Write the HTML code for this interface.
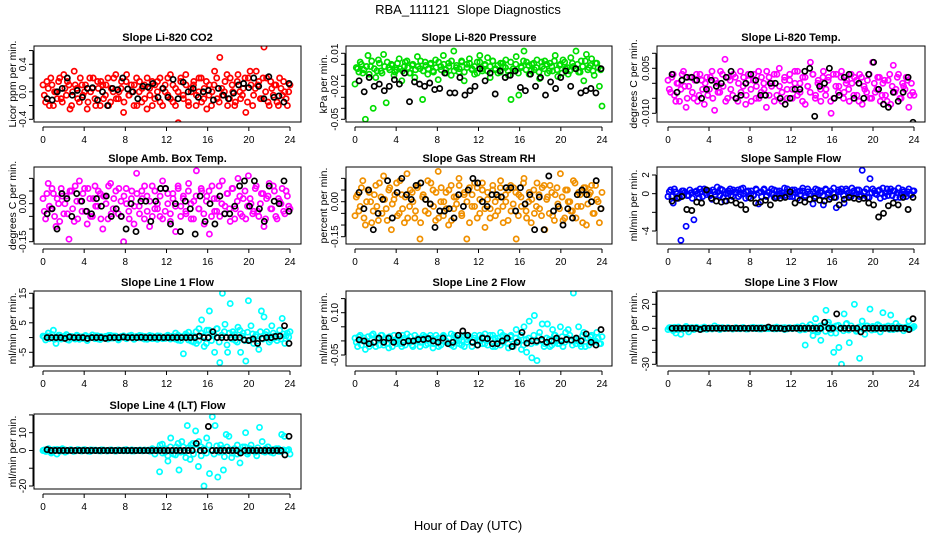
<!DOCTYPE html>
<html><head><meta charset="utf-8"><title>RBA_111121 Slope Diagnostics</title>
<style>
html,body{margin:0;padding:0;background:#fff;}
svg{display:block;font-family:"Liberation Sans",sans-serif;}
</style></head>
<body>
<svg id="chart" width="936" height="540" viewBox="0 0 936 540" xmlns="http://www.w3.org/2000/svg">
<rect x="0" y="0" width="936" height="540" fill="#fff"/>
<text x="468" y="14" text-anchor="middle" font-size="13">RBA_111121&#160; Slope Diagnostics</text>
<text x="468" y="530" text-anchor="middle" font-size="13">Hour of Day (UTC)</text>
</svg>
<script>
// ---- data (x = evenly spaced hours 0..24) ----
const xTicks = [0,4,8,12,16,20,24];

const co2Color = [0.1,-0.15,0.05,0.2,-0.2,0.0,0.15,-0.1,0.25,-0.05,0.1,-0.2,0.3,0.05,-0.15,0.1,0.0,-0.25,0.2,0.05,-0.1,0.15,-0.2,0.1,-0.05,0.2,-0.15,0.0,0.25,-0.1,0.05,-0.3,0.15,-0.05,0.1,-0.2,0.2,0.0,-0.15,0.1,-0.25,0.05,0.15,-0.1,0.0,0.2,-0.2,0.1,-0.05,0.25,-0.15,0.05,-0.45,0.2,-0.1,0.1,-0.2,0.0,0.15,-0.05,0.2,-0.15,0.05,-0.25,0.1,0.0,0.3,-0.1,0.5,-0.05,0.15,-0.2,0.2,0.0,-0.15,0.25,-0.1,0.05,-0.3,0.2,0.1,-0.05,0.3,0.15,-0.1,0.65,0.2,-0.2,0.05,0.1,-0.15,0.2,-0.05,0.0,-0.2,0.1];
const co2Color2 = [-0.05,0.15,-0.2,0.1,0.0,-0.1,0.2,-0.15,0.05,0.15,-0.25,0.0,0.1,-0.1,0.2,-0.05,0.1,-0.15,0.0,0.2,-0.2,0.05,0.15,-0.1,0.1,-0.2,0.05,0.2,-0.1,0.0,0.15,-0.15,0.25,-0.05,0.0,0.1,-0.2,0.15,0.05,-0.1,0.2,-0.05,-0.2,0.1,0.15,-0.15,0.05,0.0,0.2,-0.1,0.1,-0.2,0.0,0.15,-0.05,0.25,-0.15,0.05,0.1,-0.2,0.0,0.2,-0.1,0.15,-0.05,-0.2,0.1,0.2,-0.15,0.05,0.0,0.25,-0.1,0.1,-0.2,0.15,0.0,-0.05,0.2,-0.15,0.3,-0.2,0.05,0.1,-0.1,0.2,0.0,-0.15,0.15,-0.05,0.1,-0.2,0.05,0.15,-0.1,0.0];
const co2Black = [-0.1,-0.12,0.0,0.05,0.2,-0.05,0.02,-0.08,0.05,0.06,-0.12,0.0,-0.2,0.05,0.03,0.2,0.04,0.0,-0.1,0.08,0.07,0.12,-0.08,0.05,-0.08,0.18,-0.1,0.14,0.0,0.05,-0.08,0.0,0.02,-0.12,0.05,-0.05,-0.1,-0.02,0.1,0.12,0.06,0.2,0.08,-0.1,0.22,-0.08,-0.06,-0.15,0.12];
const co2Ticks = [-0.4,-0.2,0.0,0.2,0.4,0.6];
const co2Labels = ["-0.4","","0.0","","0.4",""];

const presColor = [-0.018,-0.004,0.002,-0.008,-0.05,0.008,-0.002,-0.04,-0.012,0.004,-0.006,0.009,-0.035,-0.003,0.0,-0.01,-0.005,0.005,-0.015,-0.002,0.003,-0.008,-0.001,-0.012,0.007,-0.004,-0.032,0.002,-0.009,0.0,-0.006,0.004,-0.014,-0.002,0.008,-0.005,0.001,-0.01,0.012,-0.003,-0.007,0.003,-0.015,0.0,0.005,-0.004,-0.009,0.002,0.008,-0.006,-0.001,0.006,-0.012,0.003,-0.004,-0.008,0.001,-0.002,0.004,-0.01,-0.032,-0.006,0.007,-0.028,-0.003,0.012,0.002,-0.009,0.0,-0.005,0.004,-0.013,-0.002,0.003,-0.008,0.001,-0.006,0.008,-0.011,0.0,0.004,-0.004,-0.009,0.006,-0.002,0.012,-0.007,0.003,-0.015,0.009,-0.003,0.005,-0.01,0.001,-0.02,-0.038];
const presColor2 = [-0.003,-0.007,0.0,-0.005,-0.002,-0.009,0.003,-0.004,-0.006,0.001,-0.008,-0.002,0.002,-0.005,-0.001,-0.007,0.001,-0.004,-0.006,0.002,-0.003,-0.008,0.0,-0.005,-0.002,0.003,-0.006,-0.001,-0.004,0.001,-0.007,-0.003,0.002,-0.005,0.0,-0.008,-0.002,0.003,-0.006,-0.001,-0.004,0.002,-0.007,-0.003,0.001,-0.005,-0.002,-0.008,0.002,-0.004,0.0,-0.006,-0.002,0.003,-0.005,-0.001,-0.007,0.001,-0.003,-0.006,0.002,-0.004,0.0,-0.008,-0.002,0.003,-0.005,-0.001,-0.006,0.001,-0.003,-0.007,0.002,-0.004,0.0,-0.006,-0.002,0.003,-0.005,-0.001,-0.008,0.002,-0.003,-0.006,0.001,-0.004,0.0,-0.007,-0.002,0.003,-0.005,-0.001,-0.006,0.001,-0.003,-0.005];
const presBlack = [-0.015,-0.025,-0.012,-0.02,-0.018,-0.024,-0.02,-0.014,-0.018,-0.008,-0.034,-0.016,-0.018,-0.02,-0.017,-0.023,-0.022,-0.008,-0.026,-0.026,-0.012,-0.028,-0.024,-0.02,-0.004,-0.015,-0.008,-0.027,-0.006,-0.012,-0.01,-0.006,-0.021,-0.024,-0.009,-0.02,-0.012,-0.028,-0.016,-0.022,-0.012,-0.006,-0.02,-0.004,-0.026,-0.024,-0.022,-0.026,-0.004];
const presTicks = [-0.05,-0.04,-0.03,-0.02,-0.01,0.0,0.01];
const presLabels = ["-0.05","","","-0.02","","","0.01"];

const tempColor = [0.001,-0.003,0.003,-0.006,0.0,-0.002,0.004,-0.008,-0.001,0.002,-0.005,0.003,-0.004,0.001,-0.007,0.002,-0.002,0.004,-0.009,0.0,-0.003,0.003,0.008,-0.005,0.001,-0.004,0.002,-0.006,0.004,-0.001,-0.007,0.003,-0.002,0.001,-0.005,0.004,-0.003,0.0,-0.008,0.002,-0.001,0.003,-0.004,0.005,-0.006,0.001,-0.002,0.003,-0.005,0.0,0.004,-0.003,0.002,-0.007,-0.001,0.007,0.003,-0.004,0.001,-0.006,0.004,-0.002,0.002,-0.01,-0.005,0.003,-0.001,0.004,-0.003,0.001,-0.006,0.0,0.002,-0.004,0.003,-0.007,-0.002,0.001,-0.005,0.007,-0.003,0.002,-0.006,0.0,-0.004,0.001,-0.007,0.006,-0.002,0.003,-0.005,-0.001,0.002,-0.008,0.0,-0.004];
const tempColor2 = [-0.002,0.002,-0.004,0.0,-0.006,0.003,-0.001,-0.005,0.002,-0.003,0.001,-0.006,0.003,-0.002,0.0,-0.004,0.002,-0.005,0.001,-0.003,0.004,-0.001,-0.006,0.002,-0.002,0.003,-0.005,0.0,-0.003,0.002,-0.004,0.001,-0.006,0.003,-0.001,-0.005,0.002,-0.002,0.004,-0.004,0.0,-0.006,0.003,-0.001,-0.003,0.002,-0.005,0.001,-0.002,0.004,-0.004,0.0,-0.006,0.002,-0.001,-0.003,0.003,-0.005,0.0,-0.002,0.002,-0.004,0.001,-0.006,0.003,-0.001,-0.003,0.002,-0.005,0.0,-0.002,0.003,-0.004,0.001,-0.006,0.002,-0.001,-0.003,0.003,-0.005,0.0,-0.002,0.002,-0.004,0.001,-0.006,0.003,-0.001,-0.003,0.002,-0.005,0.0,-0.002,0.001,-0.004,-0.003];
const tempBlack = [0.003,-0.003,0.001,0.002,0.002,0.001,-0.005,-0.002,0.001,-0.001,0.0,0.002,0.004,-0.005,-0.004,0.0,0.003,0.001,-0.004,-0.004,0.0,0.0,-0.005,-0.007,-0.005,-0.002,-0.002,0.004,0.005,-0.011,-0.001,0.0,0.005,-0.005,-0.004,0.002,0.003,-0.005,0.0,-0.005,0.003,0.007,-0.002,-0.007,-0.008,-0.003,-0.006,-0.003,0.002,-0.013];
const tempTicks = [-0.010,-0.005,0.0,0.005,0.010];
const tempLabels = ["-0.010","","","0.005",""];

const ambColor = [0.02,-0.06,0.08,-0.02,0.04,-0.09,0.0,0.06,-0.04,0.03,-0.14,0.05,-0.07,0.01,0.09,-0.03,0.06,-0.08,0.02,-0.05,0.07,-0.01,0.04,-0.1,0.03,-0.06,0.08,-0.02,0.05,-0.04,0.01,-0.15,0.06,-0.03,0.02,-0.08,0.12,-0.01,0.05,-0.06,0.03,-0.09,0.07,-0.02,0.0,-0.05,0.09,-0.03,0.04,-0.07,0.02,-0.11,0.06,-0.01,0.03,-0.04,0.08,-0.06,0.01,0.13,-0.02,0.05,-0.08,0.03,-0.12,0.07,-0.03,0.02,-0.05,0.09,-0.01,0.04,-0.07,0.06,-0.02,0.1,-0.04,0.02,-0.06,0.11,0.0,-0.03,0.07,-0.05,0.04,-0.09,0.02,0.08,-0.02,0.05,-0.06,0.01,0.06,-0.04,0.03,-0.02];
const ambColor2 = [-0.03,0.04,-0.01,0.06,-0.05,0.02,-0.07,0.03,0.0,-0.04,0.05,-0.02,0.07,-0.06,0.01,0.04,-0.03,0.06,-0.05,0.02,-0.01,0.05,-0.06,0.03,0.0,0.07,-0.04,0.02,-0.02,0.06,-0.05,0.03,0.0,-0.06,0.05,-0.01,0.04,-0.04,0.02,0.07,-0.03,0.01,-0.05,0.05,-0.02,0.03,-0.06,0.06,0.0,-0.04,0.04,-0.01,0.07,-0.05,0.02,-0.03,0.05,0.0,-0.06,0.03,-0.02,0.06,-0.04,0.01,0.05,-0.05,0.02,-0.03,0.07,0.0,-0.04,0.04,-0.02,0.06,-0.06,0.01,0.03,-0.05,0.05,-0.01,0.02,-0.04,0.06,-0.03,0.0,0.04,-0.06,0.03,-0.02,0.07,-0.05,0.02,0.0,-0.03,0.05,-0.01];
const ambBlack = [-0.04,-0.02,-0.1,0.04,0.02,-0.05,0.04,0.01,-0.03,-0.04,0.02,-0.01,0.03,-0.05,-0.02,-0.05,-0.1,0.0,-0.11,0.01,0.01,-0.07,0.01,0.06,0.06,-0.08,0.0,-0.11,0.01,-0.02,-0.12,0.03,-0.07,0.0,-0.08,0.03,-0.04,-0.04,-0.01,0.07,0.09,-0.01,0.09,-0.02,-0.07,0.07,0.01,0.0,0.09,-0.03];
const ambTicks = [-0.15,-0.10,-0.05,0.0,0.05,0.10];
const ambLabels = ["-0.15","","","0.00","",""];

const rhColor = [-0.06,0.03,-0.02,0.09,-0.1,0.05,0.0,-0.04,0.07,-0.08,0.02,0.11,-0.03,0.05,-0.12,0.01,0.08,-0.05,0.03,-0.09,0.12,-0.02,0.04,-0.07,0.06,-0.16,0.02,-0.04,0.09,-0.01,0.05,-0.08,0.13,0.0,-0.06,0.04,-0.1,0.07,-0.03,0.02,0.1,-0.05,0.03,-0.16,0.06,-0.02,0.08,-0.07,0.01,0.05,-0.11,0.04,-0.03,0.07,-0.06,0.02,0.09,-0.09,0.0,0.05,-0.04,0.06,-0.16,0.03,-0.02,0.1,-0.07,0.04,0.01,-0.05,0.08,-0.03,0.06,-0.12,0.02,0.07,-0.06,0.03,-0.01,0.12,-0.08,0.05,0.0,-0.04,0.09,-0.07,0.04,-0.02,0.06,-0.1,0.03,0.07,-0.05,0.01,-0.09,0.04];
const rhColor2 = [0.02,-0.04,0.06,-0.07,0.0,0.04,-0.09,0.03,-0.02,0.08,-0.05,0.01,-0.08,0.06,-0.01,0.03,-0.06,0.09,-0.03,0.02,-0.07,0.05,0.0,-0.04,0.07,-0.09,0.03,0.01,-0.05,0.08,-0.02,0.04,-0.07,0.06,0.0,-0.03,0.05,-0.08,0.02,-0.01,0.07,-0.06,0.04,0.0,-0.09,0.03,-0.02,0.06,-0.05,0.08,-0.03,0.01,-0.07,0.05,0.0,-0.04,0.06,-0.02,0.03,-0.08,0.07,-0.01,0.04,-0.06,0.02,0.08,-0.04,0.0,-0.09,0.05,-0.02,0.03,-0.06,0.07,0.01,-0.05,0.04,-0.08,0.06,-0.03,0.02,-0.07,0.05,0.0,-0.04,0.08,-0.02,0.03,-0.09,0.06,-0.01,0.04,-0.05,0.07,0.0,-0.03];
const rhBlack = [0.04,-0.03,0.05,-0.12,-0.05,0.01,0.09,-0.07,0.04,0.1,0.03,0.01,0.07,0.08,0.01,-0.01,-0.11,-0.04,-0.04,-0.03,-0.07,0.03,-0.02,0.05,0.1,0.08,0.0,-0.02,0.03,0.03,0.02,0.06,0.06,-0.04,0.06,-0.01,0.03,-0.12,0.02,-0.12,0.11,-0.04,-0.02,-0.1,-0.03,-0.07,0.03,0.05,0.03,0.0,0.09,-0.03];
const rhTicks = [-0.15,-0.10,-0.05,0.0,0.05,0.10];
const rhLabels = ["-0.15","","","0.00","",""];

const flowColor = [-0.3,0.4,-1.0,0.2,-0.5,-5.0,0.3,-3.5,-0.2,0.1,-2.8,0.3,-0.4,0.2,0.5,-0.1,0.3,-0.6,0.2,0.7,-0.2,0.4,-0.8,0.1,0.5,-0.3,0.2,0.4,-0.1,0.6,-0.5,0.3,0.0,-0.2,0.5,-1.1,0.2,0.4,-0.3,0.1,0.5,-0.4,0.3,0.0,-0.2,0.6,0.2,-0.3,0.4,0.1,-0.5,0.3,0.6,-0.2,0.2,0.0,-1.1,0.5,-0.1,0.3,-1.2,0.4,0.1,-0.4,0.6,-1.5,0.2,0.5,-1.0,0.3,-0.2,0.6,0.1,0.4,-0.3,2.5,0.2,-0.4,1.6,0.5,0.0,0.3,-0.5,0.6,0.1,-0.2,0.5,0.3,-0.4,0.6,0.0,0.2,-0.3,0.5,-0.1,0.3];
const flowColor2 = [0.2,-0.3,0.5,0.0,-0.4,0.3,0.1,-0.2,0.4,-0.5,0.2,0.0,0.5,-0.3,0.1,0.3,-0.2,0.4,-0.1,0.2,0.5,-0.4,0.0,0.3,-0.2,0.4,0.1,-0.3,0.5,0.0,0.2,-0.4,0.3,-0.1,0.4,0.1,-0.3,0.5,-0.2,0.2,0.0,0.4,-0.4,0.3,0.1,-0.2,0.5,0.0,-0.3,0.4,0.2,-0.1,0.3,-0.4,0.5,0.0,0.2,-0.3,0.4,0.1,-0.2,0.5,-0.1,0.3,0.0,-0.4,0.4,0.2,-0.2,0.5,0.1,-0.3,0.3,0.0,0.4,-0.2,0.2,0.5,-0.4,0.1,0.3,-0.1,0.4,0.0,-0.3,0.5,0.2,-0.2,0.3,0.1,-0.4,0.4,0.0,0.2,-0.1,0.3];
const flowBlack = [-0.8,-0.5,-0.3,-1.7,-1.8,-0.9,-1.0,0.4,-0.5,-0.8,-0.9,-0.8,-0.7,-1.0,-1.2,-1.7,-0.5,-1.0,-0.9,-0.7,-1.2,-0.5,-0.5,-0.4,0.2,-1.0,-0.7,-0.9,-0.6,-0.5,-0.7,-0.8,-0.6,-0.4,-1.2,-0.6,-0.4,-0.5,-0.6,-0.5,-1.0,-1.2,-2.5,-2.1,-1.3,-1.0,-1.2,-0.4,-1.7,-0.4];
const flowTicks = [-4,-2,0,2];
const flowLabels = ["-4","","0","2"];

const l1Color = [0.5,-0.8,1.5,0.2,2.5,-2.0,0.8,-0.5,0.3,1.0,-0.9,0.4,-0.3,0.8,-0.6,0.2,0.5,-1.0,0.3,0.9,-0.4,0.6,-0.7,0.1,0.4,-0.5,0.7,-0.2,0.5,-0.8,0.3,0.6,-0.3,0.2,0.8,-0.6,0.4,-0.1,0.6,-0.5,0.3,0.7,-0.4,0.2,-0.6,0.5,0.1,-0.3,0.8,-0.5,0.2,1.5,-0.9,0.3,-5.5,0.6,1.8,-1.2,0.5,-2.0,3.0,6.0,-3.0,2.5,9.0,1.0,-5.0,3.0,-8.5,15.0,4.5,-5.0,11.5,2.0,-1.0,3.5,-5.0,1.5,-8.0,12.5,4.0,-2.0,1.0,-4.0,9.0,7.0,2.0,-1.5,4.0,0.5,-1.0,2.5,6.5,-2.0,1.5,2.0];
const l1Color2 = [0.2,0.6,-0.4,1.0,-0.6,0.3,0.8,-0.2,0.5,-0.7,0.4,0.1,-0.5,0.6,0.2,-0.3,0.7,-0.4,0.3,0.0,0.6,-0.5,0.4,0.1,-0.3,0.7,-0.2,0.5,0.0,-0.6,0.4,0.2,-0.4,0.6,0.1,-0.5,0.3,0.7,-0.2,0.4,-0.6,0.2,0.5,-0.3,0.6,0.0,-0.4,0.3,0.6,-0.2,0.5,-0.5,0.8,-1.0,0.4,1.2,-0.8,0.6,-1.5,2.0,-1.0,1.5,0.5,-2.0,2.5,-1.0,1.0,3.0,-1.5,0.8,2.0,-2.5,1.5,-0.5,1.0,-1.5,2.5,0.5,-1.0,1.8,-0.8,1.2,0.4,-1.2,2.0,-0.5,1.0,0.3,-0.8,1.5,0.0,0.8,-0.5,1.2,0.6,0.2];
const l1Black = [0.0,0.0,0.0,0.0,-0.3,0.2,0.0,0.0,0.0,-0.3,0.0,0.0,0.0,-0.3,0.0,0.0,0.0,0.2,0.0,0.0,0.0,0.1,0.0,0.0,0.0,0.0,0.0,0.0,0.0,0.0,0.0,0.0,0.0,0.0,0.5,0.0,0.0,2.0,0.0,0.0,0.0,0.0,0.0,0.0,-0.8,-1.0,-0.5,-2.0,-0.3,0.0,0.0,0.4,0.5,4.0,-2.0];
const l1Ticks = [-10,-5,0,5,10,15];
const l1Labels = ["","-5","","5","","15"];

const l2Color = [0.01,-0.02,0.02,0.0,-0.03,0.015,-0.01,0.025,-0.02,0.005,0.02,-0.015,0.01,-0.025,0.0,0.02,-0.01,0.015,-0.02,0.01,0.025,-0.005,-0.015,0.02,0.0,-0.02,0.01,0.015,-0.01,0.02,-0.025,0.005,0.01,-0.015,0.02,0.0,-0.01,0.025,-0.02,0.01,0.005,-0.015,0.02,-0.005,0.015,-0.02,0.01,0.0,0.02,-0.01,0.025,-0.015,0.005,0.02,-0.02,0.01,0.03,-0.005,0.015,-0.025,0.02,-0.01,0.04,0.0,-0.03,0.05,-0.04,0.07,-0.06,0.09,-0.07,0.03,0.06,-0.01,0.06,-0.02,0.04,0.02,-0.01,0.05,-0.02,0.03,0.04,0.0,0.17,-0.01,0.05,-0.02,0.03,0.01,-0.015,0.02,0.0,0.03,-0.01,0.015];
const l2Color2 = [-0.005,0.015,-0.015,0.01,0.0,-0.02,0.02,-0.005,0.01,-0.015,0.02,0.005,-0.01,0.015,-0.02,0.0,0.01,-0.01,0.02,-0.015,0.005,0.015,-0.02,0.0,0.01,-0.005,0.02,-0.015,0.005,0.01,-0.01,0.02,-0.02,0.0,0.015,-0.005,0.01,-0.015,0.02,0.0,-0.01,0.015,-0.02,0.005,0.01,-0.005,0.02,-0.015,0.0,0.015,-0.01,0.005,0.02,-0.02,0.01,0.0,-0.015,0.02,0.005,-0.01,0.015,-0.02,0.01,0.0,0.02,-0.015,0.005,0.01,-0.01,0.02,-0.005,0.015,0.0,-0.02,0.01,0.005,-0.015,0.02,0.0,-0.01,0.015,-0.005,0.01,0.02,-0.015,0.005,0.0,-0.01,0.02,-0.02,0.01,0.015,-0.005,0.0,0.01,-0.01];
const l2Black = [0.004,0.0,-0.01,-0.005,0.01,-0.005,0.01,-0.005,0.02,-0.005,0.0,0.0,0.005,0.005,0.008,0.0,-0.005,0.01,-0.01,-0.005,0.02,0.035,0.02,-0.005,-0.015,0.01,0.008,-0.01,-0.01,0.0,0.01,-0.02,-0.005,0.03,-0.008,0.0,0.0,0.005,-0.005,0.0,0.01,0.0,0.005,0.003,0.01,0.0,0.025,-0.005,-0.015,0.04];
const l2Ticks = [-0.05,0.0,0.05,0.10,0.15];
const l2Labels = ["-0.05","","","0.10",""];

const l3Color = [-1.0,0.5,-2.0,-4.0,1.0,-5.0,0.0,1.5,-3.0,0.5,-1.0,0.8,-0.5,0.3,1.0,-0.8,0.2,-0.5,2.0,0.0,-1.0,0.6,-0.3,0.5,0.0,-0.6,0.4,0.1,-0.4,0.7,0.0,-0.5,0.3,0.8,-0.2,0.4,-0.6,0.1,0.5,-0.3,0.2,-0.5,1.0,-0.2,0.4,-1.0,0.2,0.6,-0.3,0.3,-0.2,0.5,-0.4,-14.0,1.0,3.0,-6.0,8.0,-1.5,-10.0,2.0,15.0,5.0,-4.0,-20.0,2.0,-16.0,-30.0,12.0,4.0,-12.0,35.0,20.0,-2.0,-25.0,6.0,-5.0,2.0,16.0,1.5,-1.0,3.0,-3.0,13.0,0.0,2.0,11.0,-1.0,4.0,1.5,0.5,-2.0,1.0,6.0,0.0,1.5];
const l3Color2 = [0.5,-0.5,0.8,-1.0,0.3,-0.3,0.6,-0.8,0.2,0.5,-0.5,0.3,0.0,-0.6,0.6,-0.2,0.4,-0.4,0.2,0.7,-0.5,0.3,-0.2,0.5,0.0,-0.4,0.6,-0.3,0.2,0.4,-0.6,0.1,0.5,-0.2,0.3,-0.5,0.6,0.0,-0.3,0.4,-0.1,0.5,-0.4,0.2,0.0,0.6,-0.5,0.3,-0.2,0.5,1.0,-1.5,2.0,-1.0,0.5,3.0,-2.0,1.0,-3.0,2.0,1.5,-2.5,3.0,-1.0,1.0,-4.0,2.5,0.5,-2.0,3.5,-1.5,2.0,0.0,-2.5,1.0,1.5,-1.0,2.0,0.5,-1.5,1.0,0.0,2.0,-0.5,1.0,0.5,-1.0,1.5,0.0,-0.5,1.0,0.5,-0.3,0.8,0.2,0.5];
const l3Black = [0.0,0.0,0.0,0.0,0.0,0.0,0.0,-1.0,0.0,0.0,0.0,0.0,0.0,0.0,0.0,0.0,0.0,0.0,0.0,0.0,0.0,0.0,0.0,0.0,1.0,0.0,0.0,0.0,-0.5,0.0,0.0,0.0,0.0,0.0,0.0,0.0,0.0,0.0,5.0,0.0,0.0,12.0,0.0,0.0,0.0,0.0,0.0,-3.0,0.0,0.0,0.0,0.0,0.0,0.0,0.0,0.0,0.0,0.0,0.0,-1.0,8.0];
const l3Ticks = [-30,-20,-10,0,10,20,30];
const l3Labels = ["-30","","","0","","20",""];

const l4Color = [0.0,-0.5,1.0,-1.5,0.5,-2.0,0.3,1.0,-1.0,0.0,0.5,-0.5,0.0,0.3,-0.3,0.5,0.0,-0.5,0.2,0.0,-0.2,0.4,0.0,-0.3,0.2,0.0,-0.4,0.3,0.0,-0.2,0.5,0.0,-0.3,0.1,0.0,0.3,-0.2,0.0,0.2,-0.3,0.0,0.1,-12.0,3.5,-1.0,-6.0,7.0,-2.0,2.0,-11.0,5.0,-1.0,14.0,-5.0,4.0,11.0,-9.0,2.0,-20.0,7.0,-13.0,19.0,14.0,-15.0,3.0,-11.0,9.0,8.0,-4.0,1.0,-2.0,-7.0,2.0,10.0,-1.0,3.0,0.0,-3.0,13.0,5.0,-1.0,2.0,0.0,-1.5,1.0,-0.5,9.0,8.0,0.0,-2.0];
const l4Color2 = [0.3,-0.3,0.5,-0.8,0.2,0.6,-0.5,0.0,0.4,-0.4,0.2,0.0,-0.3,0.5,-0.2,0.3,0.0,-0.4,0.4,-0.1,0.2,0.0,-0.3,0.3,0.0,-0.2,0.4,0.0,-0.3,0.2,0.0,0.3,-0.2,0.0,0.4,-0.3,0.1,0.0,-0.2,0.3,0.0,-0.4,1.0,-2.0,0.5,3.0,-1.5,1.0,-3.0,2.0,0.0,-2.5,4.0,-1.0,2.0,-4.0,1.5,3.0,-2.0,0.5,5.0,-3.0,1.0,-1.5,3.0,0.0,-2.0,2.5,-1.0,1.0,-3.5,2.0,0.5,-1.5,1.0,3.0,-1.0,0.0,2.0,-2.0,1.0,0.5,-1.0,1.5,0.0,-0.5,1.0,2.0,-1.0,0.5,0.0,1.0,-0.5,0.3,0.0,0.5];
const l4Black = [0.5,0.0,0.0,0.0,0.0,0.0,0.0,0.0,0.0,0.0,0.0,0.0,0.0,0.0,0.0,0.0,0.0,0.0,0.0,0.0,0.0,0.0,0.0,0.0,0.0,0.0,0.0,0.0,0.0,0.0,0.0,0.0,0.0,0.0,0.0,0.0,0.0,4.0,0.0,0.0,13.5,0.0,0.0,0.0,0.0,0.0,0.0,0.0,-1.5,0.0,0.0,0.0,0.0,0.0,0.0,0.0,0.0,0.0,0.0,-2.5,8.0];
const l4Ticks = [-20,-10,0,10,20];
const l4Labels = ["-20","","0","10",""];

// ---- layout ----
const cols = [{l:34,r:301,x0:43,x24:290,yl:12},{l:346,r:612,x0:355,x24:602,yl:323},{l:657,r:925,x0:668,x24:914,yl:633}];
const rows = [{t:46,b:122},{t:167,b:244},{t:291,b:366},{t:414,b:489}];
const panels = [
 {id:"co2",title:"Slope Li-820 CO2",ylab:"Licor ppm per min.",c:0,r:0,color:"#ff0000",col:co2Color,col2:co2Color2,blk:co2Black,ticks:co2Ticks,labels:co2Labels,ref:[0.4,64.3,-0.4,119.3]},
 {id:"pressure",title:"Slope Li-820 Pressure",ylab:"kPa per min.",c:1,r:0,color:"#00dd00",col:presColor,col2:presColor2,blk:presBlack,ticks:presTicks,labels:presLabels,ref:[0.01,53.3,-0.05,119.3]},
 {id:"temp",title:"Slope Li-820 Temp.",ylab:"degrees C per min.",c:2,r:0,color:"#ff00ff",col:tempColor,col2:tempColor2,blk:tempBlack,ticks:tempTicks,labels:tempLabels,ref:[0.005,68.3,-0.010,113.3]},
 {id:"amb-box-temp",title:"Slope Amb. Box Temp.",ylab:"degrees C per min.",c:0,r:1,color:"#ff00ff",col:ambColor,col2:ambColor2,blk:ambBlack,ticks:ambTicks,labels:ambLabels,ref:[0,203.7,-0.15,241.7]},
 {id:"gas-rh",title:"Slope Gas Stream RH",ylab:"percent per min.",c:1,r:1,color:"#f09000",col:rhColor,col2:rhColor2,blk:rhBlack,ticks:rhTicks,labels:rhLabels,ref:[0,201.7,-0.15,236.7]},
 {id:"sample-flow",title:"Slope Sample Flow",ylab:"ml/min per min.",c:2,r:1,color:"#0000ff",col:flowColor,col2:flowColor2,blk:flowBlack,ticks:flowTicks,labels:flowLabels,ref:[2,175,-4,231]},
 {id:"line1-flow",title:"Slope Line 1 Flow",ylab:"ml/min per min.",c:0,r:2,color:"#00ffff",col:l1Color,col2:l1Color2,blk:l1Black,ticks:l1Ticks,labels:l1Labels,ref:[15,293.3,-5,352.3]},
 {id:"line2-flow",title:"Slope Line 2 Flow",ylab:"ml/min per min.",c:1,r:2,color:"#00ffff",col:l2Color,col2:l2Color2,blk:l2Black,ticks:l2Ticks,labels:l2Labels,ref:[0.10,312.7,-0.05,355]},
 {id:"line3-flow",title:"Slope Line 3 Flow",ylab:"ml/min per min.",c:2,r:2,color:"#00ffff",col:l3Color,col2:l3Color2,blk:l3Black,ticks:l3Ticks,labels:l3Labels,ref:[20,304.3,-30,364.3]},
 {id:"line4-flow",title:"Slope Line 4 (LT) Flow",ylab:"ml/min per min.",c:0,r:3,color:"#00ffff",col:l4Color,col2:l4Color2,blk:l4Black,ticks:l4Ticks,labels:l4Labels,ref:[10,432.7,-20,486]}
];

const NS = "http://www.w3.org/2000/svg";
const svg = document.getElementById("chart");
function mk(tag, attrs, parent){
  const e = document.createElementNS(NS, tag);
  for (const k in attrs) e.setAttribute(k, attrs[k]);
  (parent||svg).appendChild(e);
  return e;
}

panels.forEach(p => {
  const C = cols[p.c], R = rows[p.r];
  const g = mk("g", {});
  
  
  const xS = h => C.x0 + (C.x24 - C.x0) * h / 24;
  const [v1,p1,v2,p2] = p.ref;
  const yS = v => p1 + (v - v1) * (p2 - p1) / (v2 - v1);
  const clipId = "clip-" + p.id;
  const cp = mk("clipPath", {id:clipId}, g);
  mk("rect", {x:C.l, y:R.t, width:C.r-C.l, height:R.b-R.t}, cp);

  const t = mk("text", {x:(C.l+C.r)/2, y:R.t-5, "text-anchor":"middle", "font-size":"11", "font-weight":"bold"}, g);
  t.textContent = p.title;
  
  

  const yl = mk("text", {x:0, y:0, "text-anchor":"middle", "font-size":"10.5", transform:`translate(${C.yl+4},${(R.t+R.b)/2}) rotate(-90)`}, g);
  yl.textContent = p.ylab;
  
  

  const pts = mk("g", {"clip-path":`url(#${clipId})`, fill:"none", "stroke-width":"1.7"}, g);
  
  
  p.col.forEach((v,i) => {
    const h = i * 24 / (p.col.length - 1);
    const c = mk("circle", {cx:xS(h).toFixed(1), cy:yS(v).toFixed(1), r:"2.6", stroke:p.color}, pts);
    
    
  });
  p.col2.forEach((v,i) => {
    const h = (i + 0.5) * 24 / p.col2.length;
    const c = mk("circle", {cx:xS(h).toFixed(1), cy:yS(v).toFixed(1), r:"2.6", stroke:p.color}, pts);
    
    
  });
  p.blk.forEach((v,i) => {
    const h = 0.4 + i * 23.5 / (p.blk.length - 1);
    const c = mk("circle", {cx:xS(h).toFixed(1), cy:yS(v).toFixed(1), r:"2.6", stroke:"#000"}, pts);
    
    
  });

  const fr = mk("rect", {x:C.l, y:R.t, width:C.r-C.l, height:R.b-R.t, fill:"none", stroke:"#000", "stroke-width":"1"}, g);
  
  

  const xa = mk("g", {stroke:"#000", "stroke-width":"1"}, g);
  
  
  const ya0 = R.b + 5;
  mk("line", {x1:xS(0), x2:xS(24), y1:ya0, y2:ya0}, xa);
  xTicks.forEach(h => {
    mk("line", {x1:xS(h), x2:xS(h), y1:ya0, y2:ya0+4}, xa);
    const tl = mk("text", {x:xS(h), y:ya0+16, "text-anchor":"middle", "font-size":"10", stroke:"none", fill:"#000"}, xa);
    tl.textContent = String(h);
    
    
  });

  const yaG = mk("g", {stroke:"#000", "stroke-width":"1"}, g);
  
  
  const ax = C.l - 1;
  const tv = p.ticks.map(yS).filter(y => y >= R.t - 8 && y <= R.b + 8);
  mk("line", {x1:ax, x2:ax, y1:Math.min(...tv), y2:Math.max(...tv)}, yaG);
  p.ticks.forEach((v,i) => {
    const y = yS(v);
    if (y < R.t - 8 || y > R.b + 8) return;
    mk("line", {x1:ax-4, x2:ax, y1:y, y2:y}, yaG);
    if (p.labels[i]) {
      const tl = mk("text", {x:0, y:0, "text-anchor":"middle", "font-size":"10", stroke:"none", fill:"#000", transform:`translate(${ax-7},${y}) rotate(-90)`}, yaG);
      tl.textContent = p.labels[i];
      
      
    }
  });
});
</script>
</body></html>
